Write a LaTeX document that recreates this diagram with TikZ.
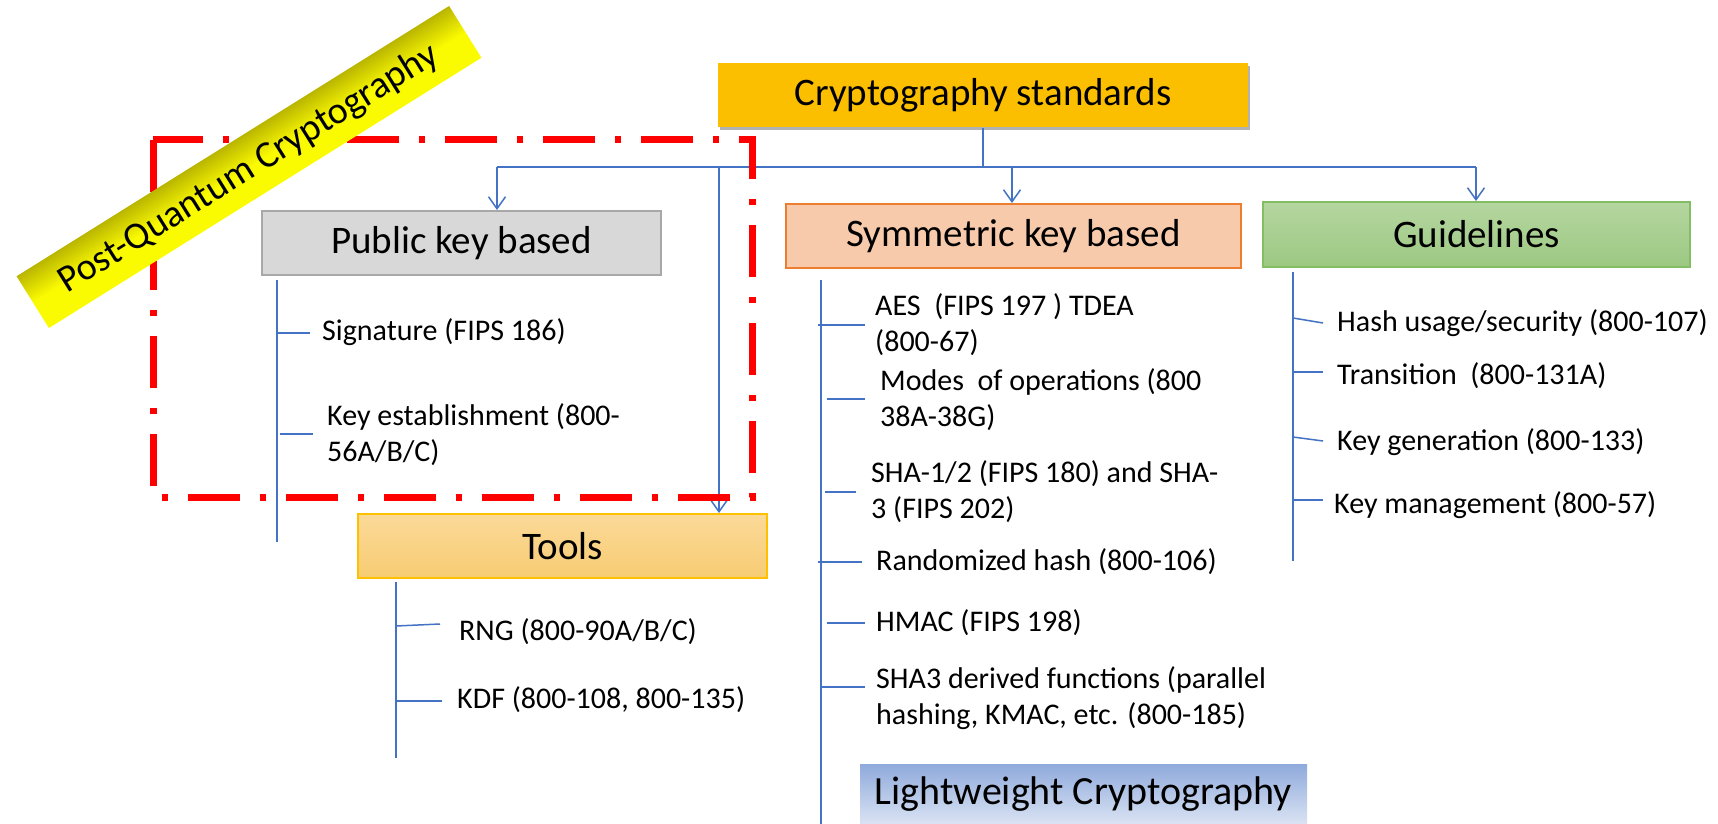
\documentclass[tikz,border=0pt]{standalone}
\usepackage{fontspec}
\setmainfont{Carlito}
\usetikzlibrary{arrows.meta,shadows}
\definecolor{lineblue}{RGB}{68,114,196}
\definecolor{topfill}{RGB}{252,191,0}
\definecolor{pubfill}{RGB}{216,216,216}
\definecolor{pubdraw}{RGB}{168,168,168}
\definecolor{symfill}{RGB}{247,202,172}
\definecolor{symdraw}{RGB}{237,125,49}
\definecolor{guitop}{RGB}{181,214,160}
\definecolor{guibot}{RGB}{156,200,130}
\definecolor{guidraw}{RGB}{132,190,100}
\definecolor{tooltop}{RGB}{251,217,152}
\definecolor{toolbot}{RGB}{247,204,115}
\definecolor{tooldraw}{RGB}{255,192,0}
\definecolor{lwtop}{RGB}{143,170,220}
\definecolor{lwbot}{RGB}{218,227,243}
\definecolor{pqred}{RGB}{255,0,0}
\definecolor{banolive}{RGB}{186,182,0}
\definecolor{banyellow}{RGB}{250,250,0}
\begin{document}
\begin{tikzpicture}[x=1pt,y=-1pt,
  branch/.style={draw=lineblue,line width=1.5pt},
  feed/.style={branch,-{Straight Barb[length=12pt,width=17pt,line width=1.5pt]}},
  headbox/.style={inner sep=0pt,font=\fontsize{39}{44}\selectfont,text=black,line width=2pt},
  item/.style={anchor=west,inner sep=0pt,align=left,font=\fontsize{30}{36}\selectfont,text=black},
  pqbox/.style={draw=pqred,line width=7pt,dash pattern=on 52pt off 20pt on 6pt off 20pt}
]
\useasboundingbox (0,0) rectangle (1718,824);
\fill[white] (0,0) rectangle (1718,824);

% main boxes
\node[headbox,fill=topfill,minimum width=530pt,minimum height=64pt,
      drop shadow={shadow xshift=2pt,shadow yshift=-3pt,opacity=0.3,fill=black}]
      (top) at (983,95) {Cryptography standards};
\node[headbox,fill=pubfill,draw=pubdraw,minimum width=399pt,minimum height=64pt]
      (pub) at (461.5,243) {Public key based};
\node[headbox,fill=symfill,draw=symdraw,minimum width=455pt,minimum height=64pt]
      (sym) at (1013.5,236) {Symmetric key based};
\node[headbox,top color=guitop,bottom color=guibot,draw=guidraw,minimum width=427pt,minimum height=65pt]
      (guide) at (1476.5,234.5) {Guidelines};
\node[headbox,top color=tooltop,bottom color=toolbot,draw=tooldraw,minimum width=409pt,minimum height=64pt]
      (tools) at (562.5,546) {Tools};
\node[headbox,font=\fontsize{40}{44}\selectfont,top color=lwtop,bottom color=lwbot,minimum width=447pt,minimum height=60pt]
      (light) at (1083.5,794) {Lightweight Cryptography};

% bus
\coordinate (bL) at (497,167);
\coordinate (bR) at (1476,167);
\coordinate (bT) at (719,167);
\coordinate (bS) at (1012,167);
\draw[branch] (top.south) -- (top.south |- bL);
\draw[branch] (bL) -- (bR);
\draw[feed] (bL) -- (bL |- pub.north);
\draw[feed] (bS) -- (bS |- sym.north);
\draw[feed] (bR) -- (bR |- guide.north);
\draw[feed] (bT) -- (bT |- tools.north);

% spines
\coordinate (pubA) at (277,280); \coordinate (pubB) at (277,542);
\coordinate (symA) at (821,280); \coordinate (symB) at (821,824);
\coordinate (guiA) at (1293,272); \coordinate (guiB) at (1293,561);
\coordinate (tooA) at (396,582); \coordinate (tooB) at (396,758);
\draw[branch] (pubA) -- (pubB);
\draw[branch] (symA) -- (symB);
\draw[branch] (guiA) -- (guiB);
\draw[branch] (tooA) -- (tooB);

% items: public key
\node[item] (sig) at (322,332) {Signature (FIPS 186)};
\node[item] (kest) at (327,435) {Key establishment (800-\\56A/B/C)};
\draw[branch] (277,333) -- (310,333);
\draw[branch] (280,434) -- (313,434);

% items: tools
\node[item] (rng) at (459,632) {RNG (800-90A/B/C)};
\node[item] (kdf) at (457,700) {KDF (800-108, 800-135)};
\draw[branch] (396,626) -- (440,624);
\draw[branch] (396,701) -- (442,701);

% items: symmetric
\node[item] (aes) at (875,325) {AES\ \ (FIPS 197 ) TDEA\\(800-67)};
\node[item] (modes) at (880,400) {Modes\ \ of operations (800\\38A-38G)};
\node[item] (sha) at (871,492) {SHA-1/2 (FIPS 180) and SHA-\\3 (FIPS 202)};
\node[item] (rand) at (876,562) {Randomized hash (800-106)};
\node[item] (hmac) at (876,623) {HMAC (FIPS 198)};
\node[item] (sha3) at (876,698) {SHA3 derived functions (parallel\\hashing, KMAC, etc. (800-185)};
\draw[branch] (818,325) -- (865,325);
\draw[branch] (827,399) -- (865,399);
\draw[branch] (825,492) -- (856,492);
\draw[branch] (818,562) -- (862,562);
\draw[branch] (827,623) -- (865,623);
\draw[branch] (821,687) -- (865,687);

% items: guidelines
\node[item] (hash) at (1337,323) {Hash usage/security (800-107)};
\node[item] (trans) at (1337,376) {Transition\ \ (800-131A)};
\node[item] (kgen) at (1337,442) {Key generation (800-133)};
\node[item] (kman) at (1334,505) {Key management (800-57)};
\draw[branch] (1293,318) -- (1323,323);
\draw[branch] (1293,372) -- (1323,372);
\draw[branch] (1293,437) -- (1323,441);
\draw[branch] (1293,500) -- (1323,500);

% post-quantum frame
\draw[pqbox] (153,140) rectangle (752,497);

% banner background (shading rotated with the canvas)
\begin{scope}[transform canvas={shift={(249,167)},rotate=32}]
\shade[top color=banolive,bottom color=banyellow,middle color=banyellow]
  (-255,-30.5) rectangle (255,30.5);
\end{scope}
% banner text
\node[inner sep=0pt,rotate=32,font=\fontsize{38}{44}\selectfont,text=black]
  (pqc) at (249,169) {Post-Quantum Cryptography};
\end{tikzpicture}
\end{document}
